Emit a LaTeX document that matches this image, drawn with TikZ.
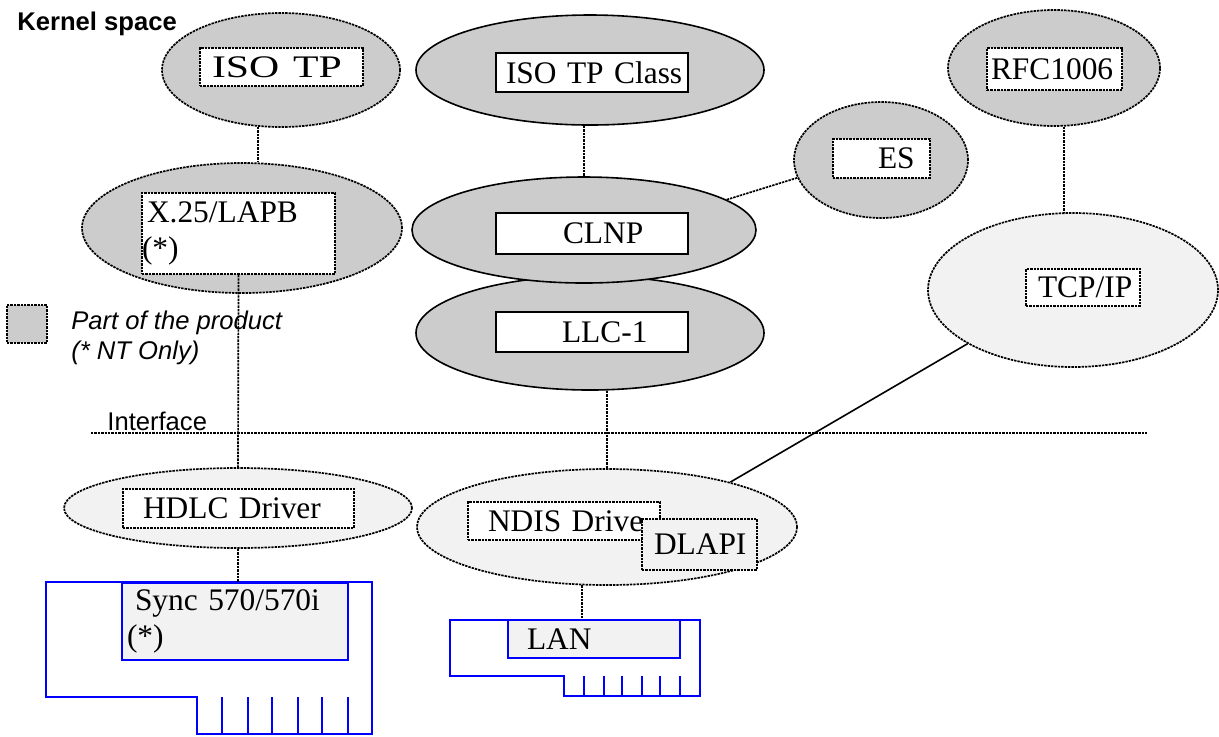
\documentclass[tikz,border=0pt]{standalone}
\usepackage{fontspec}
\setmainfont{Liberation Serif}
\setsansfont{Liberation Sans}
\usetikzlibrary{shapes.geometric, positioning}
\colorlet{parte}{black!20}
\colorlet{claro}{black!5}
\definecolor{azul}{RGB}{0,0,255}

\begin{document}
\begin{tikzpicture}[x=0.5pt, y=-0.5pt,
    punteado/.style={dash pattern=on 1.2pt off 0.5pt, line width=0.85pt},
    capa/.style={ellipse, draw, inner sep=0pt, line width=0.8pt},
    caja/.style={draw, fill=white, inner sep=0pt, align=left, line width=0.8pt,
        font=\fontsize{15.7}{18.3}\selectfont},
    azulcaja/.style={caja, draw=azul, line width=1pt, fill=claro},
    enlace/.style={punteado},
    tarjeta/.style={draw=azul, line width=1pt},
    texto/.style={inner sep=0pt, font=\sffamily\fontsize{12.8}{15}\selectfont}]
    \useasboundingbox (0,0) rectangle (1219,736);

    % Capas (elipses)
    \node[capa, punteado, fill=parte, minimum width=119pt, minimum height=57pt] (isotp) at (281,70) {};
    \node[capa, punteado, fill=parte, minimum width=160pt, minimum height=65pt] (x25) at (242,228) {};
    \node[capa, fill=parte, minimum width=174pt, minimum height=55pt] (isoclass) at (590,70) {};
    \node[capa, fill=parte, minimum width=174pt, minimum height=57pt] (llc) at (590,333) {};
    \node[capa, fill=parte, minimum width=172pt, minimum height=53pt] (clnp) at (584,230) {};
    \node[capa, punteado, fill=parte, minimum width=87pt, minimum height=58pt] (es) at (881,160) {};
    \node[capa, punteado, fill=parte, minimum width=106pt, minimum height=58pt] (rfc) at (1054,68) {};
    \node[capa, punteado, fill=claro, minimum width=145pt, minimum height=77pt] (tcp) at (1073,290) {};
    \node[capa, punteado, fill=claro, minimum width=174pt, minimum height=40pt] (hdlc) at (238,508) {};
    \node[capa, punteado, fill=claro, minimum width=190pt, minimum height=58pt] (ndis) at (607,527) {};

    % Tarjetas
    \draw[tarjeta] (46,582) -- (372,582) -- (372,734) -- (197,734) -- (197,697) -- (46,697) -- cycle;
    \foreach \x in {222,248,272,298,322,348}
        \draw[tarjeta] (\x,697) -- (\x,734);
    \draw[tarjeta] (450,620) -- (700,620) -- (700,696) -- (564,696) -- (564,676) -- (450,676) -- cycle;
    \foreach \x in {584,604,622,642,660,680}
        \draw[tarjeta] (\x,676) -- (\x,696);

    % Cajas
    \node[caja, punteado, text width=81.5pt, minimum height=19pt] (isotpbox) at (281.5,67) {\hspace*{6pt}\scalebox{1.33}[1]{ISO TP}};
    \node[caja, punteado, text width=96.5pt, minimum height=40.5pt] (x25box) at (238.5,233.5) {\hspace*{2.5pt}X.25/LAPB\\(*)};
    \node[caja, text width=96pt, minimum height=19.5pt] (isoclassbox) at (592,72.5) {\hspace*{5pt}ISO TP Class};
    \node[caja, text width=96pt, minimum height=20.5pt] (clnpbox) at (592,233.5) {\hspace*{33.5pt}CLNP};
    \node[caja, text width=96pt, minimum height=20pt] (llcbox) at (592,332) {\hspace*{33pt}LLC-1};
    \node[caja, punteado, text width=48.5pt, minimum height=19.5pt] (esbox) at (881.5,158.5) {\hspace*{22.5pt}ES};
    \node[caja, punteado, text width=67.5pt, minimum height=21pt] (rfcbox) at (1054.5,69) {\hspace*{2pt}RFC1006};
    \node[caja, punteado, text width=57pt, minimum height=18.5pt] (tcpbox) at (1083,287.5) {\hspace*{6pt}TCP/IP};
    \node[caja, punteado, text width=115.5pt, minimum height=19.5pt] (hdlcbox) at (238.5,508.5) {\hspace*{10pt}HDLC Driver};
    \node[caja, punteado, text width=96pt, minimum height=19pt] (ndisbox) at (564,521) {\hspace*{10pt}NDIS Drive};
    \node[caja, punteado, fill=claro, text width=57.5pt, minimum height=25.5pt] (dlapibox) at (699.5,544.5) {\hspace*{6pt}DLAPI};
    \node[azulcaja, text width=113pt, minimum height=38.5pt] (syncbox) at (235,621.5) {\hspace*{6.5pt}Sync 570/570i\\\hspace*{2.5pt}(*)};
    \node[azulcaja, text width=86pt, minimum height=19pt] (lanbox) at (594,639) {\hspace*{9.5pt}LAN};

    % Conexiones
    \draw[enlace] (isotp.-112) -- (isotp.-112 |- x25.north);
    \draw[enlace] (x25box.south) -- (hdlc.north);
    \draw[enlace] (hdlc.south) -- (hdlc.south |- syncbox.north);
    \draw[enlace] (clnp.north |- isoclass.south) -- (clnp.north);
    \draw[enlace] (clnp.12) -- (es.192);
    \draw[enlace] (ndis.north |- llc.south) -- (ndis.north);
    \draw[enlace] (ndis.-113) -- (ndis.-113 |- lanbox.north);
    \draw[enlace] (rfc.-80) -- (rfc.-80 |- tcp.north);
    \draw[line width=0.8pt] (tcp.207) -- (ndis.20);

    % Interfaz y leyenda
    \draw[punteado] (91,433) -- (1147,433);
    \node[texto, anchor=base west] (interfaz) at (107,430) {Interface};
    \node[texto, anchor=base west, font=\sffamily\bfseries\fontsize{12.8}{15}\selectfont] (kernel) at (17,30) {Kernel space};
    \node[draw, punteado, fill=parte, inner sep=0pt, minimum width=20pt, minimum height=19pt] (leyenda) at (27,324) {};
    \node[texto, anchor=north west, align=left, font=\sffamily\itshape\fontsize{12.8}{15}\selectfont] (nota) at (71,311) {Part of the product\\(* NT Only)};
\end{tikzpicture}
\end{document}
